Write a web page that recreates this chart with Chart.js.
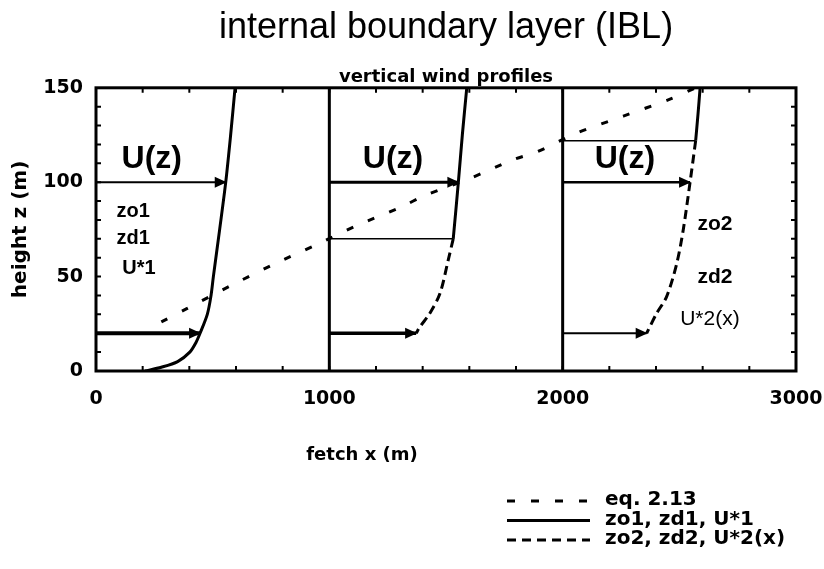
<!DOCTYPE html>
<html>
<head>
<meta charset="utf-8">
<script src="https://cdn.jsdelivr.net/npm/chart.js@4/dist/chart.umd.min.js"></script>
<style>
  html, body { margin: 0; padding: 0; background: #fff; }
  #wrap { width: 824px; height: 569px; }
</style>
</head>
<body>
<div id="wrap"><canvas id="c" width="824" height="569"></canvas></div>
<script>
// graduations des axes
const xTicks = [0, 1000, 2000, 3000]
const yTicks = [0, 50, 100, 150]

// eq. 2.13 : hauteur de la couche limite interne (IBL)
const eqX = [280, 389, 574, 753, 946, 1117, 1310, 1410, 1603, 1789, 1889, 2060, 2260, 2460, 2570]
const eqY = [26, 33, 45, 56, 67, 77, 87, 93, 102, 112, 116, 126, 135, 144, 150]

// profil 1 (zo1, zd1, U*1)
const prof1X = [210, 280, 350, 402, 428, 446, 477, 493, 503, 530, 556, 577, 596]
const prof1Y = [0, 2, 5, 10, 15, 20, 30, 40, 50, 75, 100, 125, 150]

// profil 2 : au-dessus de l'IBL (trait plein) et en dessous (tirets)
const prof2HautX = [1531, 1553, 1570, 1589]
const prof2HautY = [70, 100, 125, 150]
const prof2BasX = [1531, 1510, 1474, 1431, 1389, 1372]
const prof2BasY = [70, 59, 41, 30.6, 23.5, 20]

// profil 3
const prof3HautX = [2570, 2580, 2589]
const prof3HautY = [122, 136, 150]
const prof3BasX = [2570, 2546, 2517, 2489, 2446, 2403, 2360]
const prof3BasY = [122, 100, 75, 57, 39.5, 30.6, 20]

// fleches U(z) et traits de hauteur d'IBL
const flecheY = [100, 20, 100, 70, 20, 122, 100, 20]
const flecheX0 = [0, 0, 1000, 1000, 1000, 2000, 2000, 2000]
const flecheX1 = [556, 446, 1553, 1531, 1372, 2570, 2546, 2360]
const flechePointe = [true, true, true, false, true, false, true, true]
const flecheEpaisseur = [2, 4, 3, 1.5, 3.5, 1.5, 2.5, 2]

// annotations dans le graphique
const annotTextes = ['U(z)', 'U(z)', 'U(z)', 'zo1', 'zd1', 'U*1', 'zo2', 'zd2', 'U*2(x)']
const annotX = [239, 1273, 2267, 159, 159, 184, 2653, 2653, 2631]
const annotY = [112, 112, 112, 84.4, 70.1, 54.4, 78, 49.7, 27.6]
const annotPolice = ['bold 32px "Liberation Sans"', 'bold 32px "Liberation Sans"', 'bold 32px "Liberation Sans"',
  'bold 20px "Liberation Sans"', 'bold 20px "Liberation Sans"', 'bold 20px "Liberation Sans"',
  'bold 21px "Liberation Sans"', 'bold 21px "Liberation Sans"', '21px "Liberation Sans"']

// legende
const legendeTextes = ['eq. 2.13', 'zo1, zd1, U*1', 'zo2, zd2, U*2(x)']
const legendeTirets = [[8, 16], [], [9, 6]]

const GRAS = '"DejaVu Sans", sans-serif'

function points(xs, ys) {
  return xs.map((x, i) => ({ x: x, y: ys[i] }))
}

const datasets = [
  { label: 'eq. 2.13', data: points(eqX, eqY), borderDash: [7, 16], borderWidth: 3 },
  { label: 'zo1, zd1, U*1', data: points(prof1X, prof1Y), borderWidth: 3 },
  { label: 'profil 2 haut', data: points(prof2HautX, prof2HautY), borderWidth: 3 },
  { label: 'profil 2 bas', data: points(prof2BasX, prof2BasY), borderDash: [9, 5], borderWidth: 3 },
  { label: 'profil 3 haut', data: points(prof3HautX, prof3HautY), borderWidth: 3 },
  { label: 'profil 3 bas', data: points(prof3BasX, prof3BasY), borderDash: [9, 5], borderWidth: 3 }
]

flecheY.forEach((y, i) => {
  datasets.push({
    label: 'fleche ' + i,
    data: [{ x: flecheX0[i], y: y }, { x: flecheX1[i], y: y }],
    borderWidth: flecheEpaisseur[i],
    fleche: flechePointe[i]
  })
})

datasets.forEach(ds => {
  ds.borderColor = '#000'
  ds.backgroundColor = '#000'
  ds.pointRadius = 0
  ds.showLine = true
  ds.tension = 0.3
  ds.fill = false
})

// pointes de fleches
const flechesPlugin = {
  id: 'fleches',
  afterDatasetsDraw(chart) {
    const ctx = chart.ctx
    chart.data.datasets.forEach((ds, i) => {
      if (!ds.fleche) return
      const pts = chart.getDatasetMeta(i).data
      const p = pts[pts.length - 1]
      ctx.save()
      ctx.fillStyle = '#000'
      ctx.beginPath()
      ctx.moveTo(p.x + 1, p.y)
      ctx.lineTo(p.x - 11, p.y - 5.5)
      ctx.lineTo(p.x - 11, p.y + 5.5)
      ctx.closePath()
      ctx.fill()
      ctx.restore()
    })
  }
}

// cadre, graduations internes, textes et legende
const decorPlugin = {
  id: 'decor',
  afterDraw(chart) {
    const ctx = chart.ctx
    const a = chart.chartArea
    const sx = chart.scales.x
    const sy = chart.scales.y
    ctx.save()
    ctx.strokeStyle = '#000'
    ctx.setLineDash([])

    // petites graduations vers l'interieur
    ctx.lineWidth = 2
    ctx.beginPath()
    for (let v = 200; v < 3000; v += 200) {
      const px = sx.getPixelForValue(v)
      ctx.moveTo(px, a.bottom); ctx.lineTo(px, a.bottom - 5)
      ctx.moveTo(px, a.top); ctx.lineTo(px, a.top + 5)
    }
    for (let v = 10; v < 150; v += 10) {
      const py = sy.getPixelForValue(v)
      ctx.moveTo(a.left, py); ctx.lineTo(a.left + 5, py)
      ctx.moveTo(a.right, py); ctx.lineTo(a.right - 5, py)
    }
    ctx.stroke()

    // separations verticales entre les profils
    ctx.lineWidth = 3
    ctx.beginPath()
    xTicks.slice(1, -1).forEach(v => {
      const px = sx.getPixelForValue(v)
      ctx.moveTo(px, a.top); ctx.lineTo(px, a.bottom)
    })
    ctx.stroke()

    // cadre
    ctx.strokeRect(a.left, a.top, a.right - a.left, a.bottom - a.top)

    // annotations
    ctx.fillStyle = '#000'
    ctx.textAlign = 'center'
    ctx.textBaseline = 'middle'
    annotTextes.forEach((t, i) => {
      ctx.font = annotPolice[i]
      ctx.fillText(t, sx.getPixelForValue(annotX[i]), sy.getPixelForValue(annotY[i]))
    })

    // titre de l'axe x
    ctx.font = 'bold 18px ' + GRAS
    ctx.fillText('fetch x (m)', 362, 455)

    // legende
    ctx.font = 'bold 20px ' + GRAS
    ctx.textAlign = 'left'
    legendeTextes.forEach((t, i) => {
      const y = 501 + i * 19.5
      ctx.lineWidth = 3
      ctx.setLineDash(legendeTirets[i])
      ctx.beginPath()
      ctx.moveTo(507, y)
      ctx.lineTo(590, y)
      ctx.stroke()
      ctx.fillText(t, 605, y - 1)
    })
    ctx.restore()
  }
}

new Chart(document.getElementById('c'), {
  type: 'scatter',
  data: { datasets: datasets },
  plugins: [flechesPlugin, decorPlugin],
  options: {
    responsive: false,
    animation: false,
    devicePixelRatio: 1,
    layout: { padding: { left: 0, right: 28, top: 0, bottom: 0 } },
    plugins: {
      legend: { display: false },
      tooltip: { enabled: false },
      title: {
        display: true,
        text: 'internal boundary layer (IBL)',
        color: '#000',
        fullSize: false,
        font: { family: '"Liberation Sans", sans-serif', size: 36, weight: 'normal' },
        padding: { top: 6, bottom: 0 }
      },
      subtitle: {
        display: true,
        text: 'vertical wind profiles',
        color: '#000',
        fullSize: false,
        font: { family: GRAS, size: 18, weight: 'bold' },
        padding: { top: 17, bottom: 0 }
      }
    },
    scales: {
      x: {
        type: 'linear',
        min: 0,
        max: 3000,
        afterBuildTicks: s => { s.ticks = xTicks.map(v => ({ value: v })) },
        // les libelles du bas ne doivent pas retrecir la zone du graphique
        afterFit: s => { s.height = 198; s.paddingLeft = 0; s.paddingRight = 0 },
        grid: { display: false, drawTicks: false },
        border: { display: false },
        ticks: {
          color: '#000',
          padding: 17,
          maxRotation: 0,
          callback: v => String(v),
          font: { family: GRAS, size: 19, weight: 'bold' }
        }
      },
      y: {
        type: 'linear',
        min: 0,
        max: 150,
        afterBuildTicks: s => { s.ticks = yTicks.map(v => ({ value: v })) },
        afterFit: s => { s.width = 96 },
        grid: { display: false, drawTicks: false },
        border: { display: false },
        ticks: {
          color: '#000',
          padding: 13,
          callback: v => String(v),
          font: { family: GRAS, size: 19, weight: 'bold' }
        },
        title: {
          display: true,
          text: 'height z (m)',
          color: '#000',
          font: { family: GRAS, size: 20, weight: 'bold' },
          padding: { top: 9, bottom: 0 }
        }
      }
    }
  }
})
</script>
</body>
</html>
